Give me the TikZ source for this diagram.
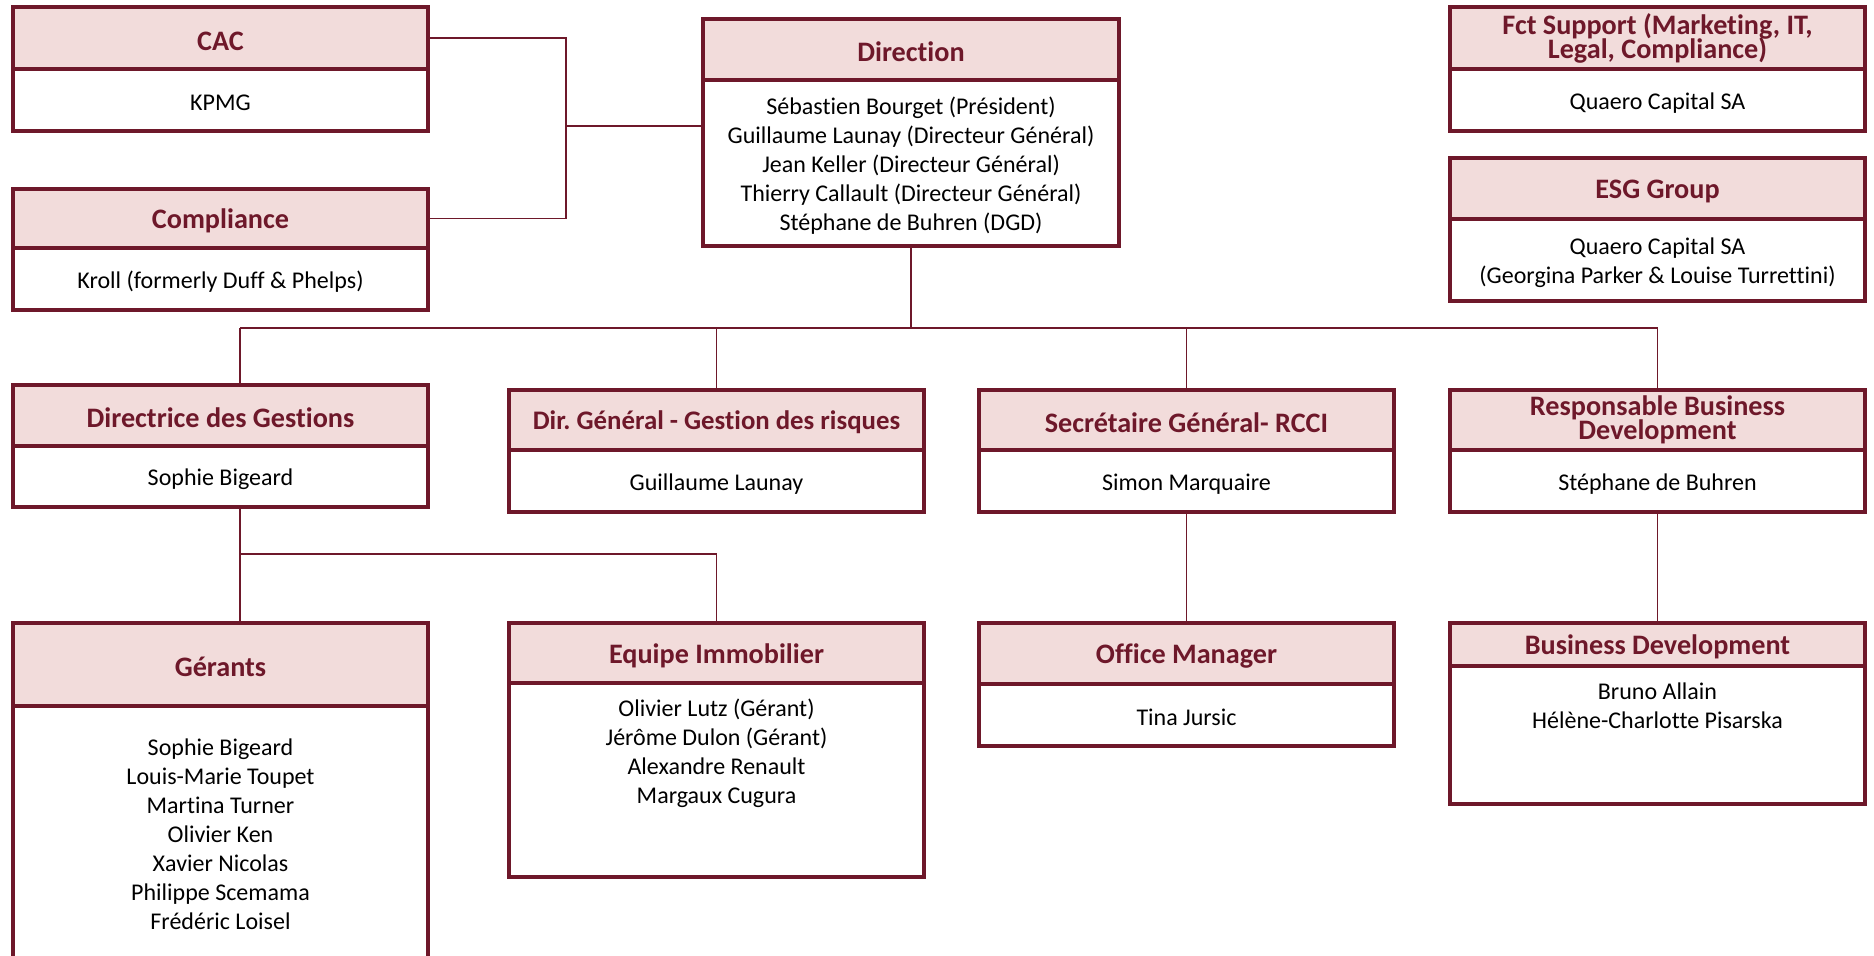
\documentclass[tikz,border=0pt]{standalone}
\usepackage{fontspec}
\setmainfont{Carlito}[Ligatures=NoCommon]
\usetikzlibrary{positioning}
\definecolor{qred}{RGB}{110,24,42}
\definecolor{qpink}{RGB}{242,220,219}
\frenchspacing
\newcommand\headfont{\bfseries\fontsize{14.1}{12}\selectfont\lineskiplimit=-20pt\relax}
\newcommand\topstrut[1]{\vrule height #1em depth 0pt width 0pt\relax}

\begin{document}
\begin{tikzpicture}[x=0.5pt, y=-0.5pt,
    head/.style ={draw=qred, line width=2.2pt, fill=qpink, text=qred, inner sep=0pt, outer sep=0pt,
                  minimum width=207.5pt, align=center, anchor=north west,
                  font=\headfont, execute at begin node=\topstrut{0.88}},
    body/.style ={draw=qred, line width=2.2pt, fill=white, inner sep=0pt, outer sep=0pt,
                  minimum width=207.5pt, align=center,
                  font=\fontsize{12}{14.5}\selectfont, execute at begin node=\topstrut{0.92}},
    link/.style ={draw=qred, line width=0.75pt}]
   \clip (0,0) rectangle (1874,956);
   % left column
   \node[head, minimum height=31pt] (cac) at (13,7) {CAC};
   \node[body, minimum height=31pt, below=0pt of cac] (cacb) {KPMG};
   \node[head, minimum height=29.5pt] (compl) at (13,189) {Compliance};
   \node[body, minimum height=31pt, below=0pt of compl] (complb) {Kroll (formerly Duff \& Phelps)};
   % top middle
   \node[head, minimum height=30.5pt, minimum width=208pt] (dir) at (703,19) {Direction};
   \node[body, minimum height=83pt, minimum width=208pt, below=0pt of dir] (dirb)
      {\mbox{}\\[-3pt]Sébastien Bourget (Président)\\Guillaume Launay (Directeur Général)\\Jean Keller (Directeur Général)\\Thierry Callault (Directeur Général)\\Stéphane de Buhren (DGD)};
   % right column
   \node[head, minimum height=31pt] (fct) at (1450,7) {Fct Support (Marketing, IT,\\Legal, Compliance)};
   \node[body, minimum height=31pt, below=0pt of fct] (fctb) {Quaero Capital SA};
   \node[head, minimum height=30.5pt] (esg) at (1450,158) {ESG Group};
   \node[body, minimum height=41pt, below=0pt of esg] (esgb)
      {\mbox{}\\[-3pt]Quaero Capital SA\\(Georgina Parker \& Louise Turrettini)};
   % second row
   \node[head, minimum height=30.5pt] (gest) at (13,385) {Directrice des Gestions};
   \node[body, minimum height=30.5pt, below=0pt of gest] (gestb) {Sophie Bigeard};
   \node[head, minimum height=30pt, font=\bfseries\fontsize{13.4}{12}\selectfont] (risk) at (509,390) {Dir. Général - Gestion des risques};
   \node[body, minimum height=31pt, below=0pt of risk] (riskb) {Guillaume Launay};
   \node[head, minimum height=30pt] (sec) at (979,390) {Secrétaire Général- RCCI};
   \node[body, minimum height=31pt, below=0pt of sec] (secb) {Simon Marquaire};
   \node[head, minimum height=30pt] (resp) at (1450,390) {Responsable Business\\Development};
   \node[body, minimum height=31pt, below=0pt of resp] (respb) {Stéphane de Buhren};
   % third row
   \node[head, minimum height=41.5pt] (ger) at (13,623) {Gérants};
   \node[body, minimum height=128pt, below=0pt of ger] (gerb)
      {Sophie Bigeard\\Louis-Marie Toupet\\Martina Turner\\Olivier Ken\\Xavier Nicolas\\Philippe Scemama\\Frédéric Loisel};
   \node[head, minimum height=30pt] (immo) at (509,623) {Equipe Immobilier};
   \node[body, minimum height=97pt, below=0pt of immo] (immob)
      {Olivier Lutz (Gérant)\\Jérôme Dulon (Gérant)\\Alexandre Renault\\Margaux Cugura\\\mbox{}\\\mbox{}};
   \node[head, minimum height=30.5pt] (office) at (979,623) {Office Manager};
   \node[body, minimum height=31pt, below=0pt of office] (officeb) {Tina Jursic};
   \node[head, minimum height=21.5pt] (bizdev) at (1450,623) {Business Development};
   \node[body, minimum height=69pt, below=0pt of bizdev] (bizdevb)
      {Bruno Allain\\Hélène-Charlotte Pisarska\\\mbox{}\\\mbox{}};
   % connectors
   \coordinate (jct) at (566,126);
   \coordinate (bus) at (240,328);
   \coordinate (split) at (240,554);
   \draw[link] (cac.east) -| (jct) |- (compl.east);
   \draw[link] (jct) -- (jct -| dirb.west);
   \draw[link] (dirb.south) -- (dirb.south |- bus);
   \draw[link] (bus) -- (bus -| resp.north);
   \draw[link] (bus) -- (bus |- gest.north);
   \draw[link] (bus -| risk.north) -- (risk.north);
   \draw[link] (bus -| sec.north) -- (sec.north);
   \draw[link] (bus -| resp.north) -- (resp.north);
   \draw[link] (gestb.south -| split) -- (split |- ger.north);
   \draw[link] (split) -| (immo.north);
   \draw[link] (secb.south) -- (office.north);
   \draw[link] (respb.south) -- (bizdev.north);
\end{tikzpicture}
\end{document}
